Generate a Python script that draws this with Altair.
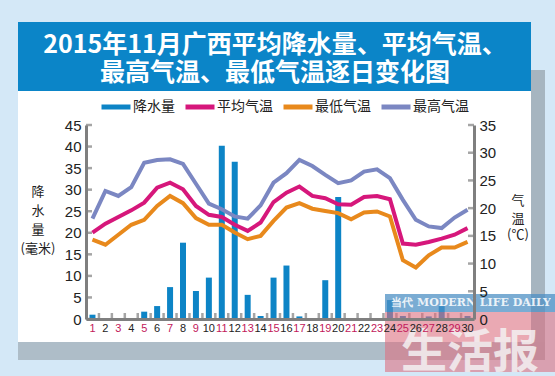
import altair as alt
import pandas as pd

days = list(range(1, 31))
precip = [1.0, 0, 0, 0, 1.7, 3.0, 7.4, 17.7, 6.5, 9.6, 40.2, 36.5, 5.6, 0.7, 9.6,
          12.4, 0.6, 0, 9.0, 28.3, 0, 0, 0, 4.4, 0.7, 0, 0.6, 3.0, 0, 0.7]
avg_t = [15.6, 17.2, 18.4, 19.6, 21.0, 23.7, 24.6, 23.4, 20.4, 18.8, 18.4, 17.0, 15.9, 17.4, 21.1,
         22.8, 23.9, 22.2, 21.8, 20.7, 20.6, 22.0, 22.2, 21.6, 13.6, 13.4, 13.9, 14.5, 15.2, 16.4]
min_t = [14.3, 13.4, 15.2, 17.0, 17.9, 20.4, 22.2, 20.9, 18.2, 17.0, 17.0, 15.6, 14.4, 15.0, 17.7,
         20.1, 20.9, 19.9, 19.5, 19.1, 18.0, 19.2, 19.4, 18.5, 10.6, 9.3, 11.5, 12.9, 12.9, 13.9]
max_t = [18.1, 23.1, 22.2, 23.8, 28.2, 28.7, 28.8, 28.0, 24.4, 20.8, 19.8, 18.5, 18.1, 20.5, 24.6,
         26.3, 28.7, 27.6, 26.0, 24.5, 25.0, 26.6, 27.0, 25.4, 21.5, 17.9, 16.7, 16.4, 18.3, 19.7]

series_names = ["降水量", "平均气温", "最低气温", "最高气温"]
series_colors = ["#0d84c6", "#d6177b", "#e8891c", "#7b87c2"]
left_ticks = list(range(0, 50, 5))
right_ticks = list(range(0, 40, 5))
title_lines = ["2015年11月广西平均降水量、平均气温、", "最高气温、最低气温逐日变化图"]

W, H = 388, 194
CJK = "Noto Sans CJK SC"
LAT = "Liberation Sans"
GRAY = "#7f7f7f"

bar_df = pd.DataFrame({"day": days, "value": precip, "series": series_names[0]})
line_df = pd.concat([
    pd.DataFrame({"day": days, "value": avg_t, "series": series_names[1]}),
    pd.DataFrame({"day": days, "value": min_t, "series": series_names[2]}),
    pd.DataFrame({"day": days, "value": max_t, "series": series_names[3]}),
])

xaxis = alt.Axis(title=None, labelAngle=0, ticks=False, labelFontSize=11,
                 labelFont=LAT, labelPadding=3, labelOverlap=False, zindex=1,
                 labelColor={"condition": {"test": "datum.value % 2 == 1", "value": "#c2185b"},
                             "value": "#222222"},
                 domainColor=GRAY, domainWidth=3)
xscale = alt.Scale(paddingInner=0, paddingOuter=0)
color = alt.Color("series:N",
                  scale=alt.Scale(domain=series_names, range=series_colors),
                  legend=alt.Legend(title=None, orient="none", legendX=13, legendY=-35,
                                    direction="horizontal", symbolType="stroke",
                                    symbolStrokeWidth=5, symbolSize=841,
                                    labelFont=CJK, labelFontSize=14, labelColor="#222",
                                    labelOffset=0, columnPadding=0))

# background decorations
bg = pd.DataFrame({"k": [0]})
panel = alt.Chart(bg).mark_rect(color="white").encode(
    x=alt.value(-68), x2=alt.value(445), y=alt.value(-103), y2=alt.value(217))
shadow_r = alt.Chart(bg).mark_rect(color="#9aa7b2", opacity=0.8).encode(
    x=alt.value(445), x2=alt.value(459), y=alt.value(-55), y2=alt.value(235))
shadow_b = alt.Chart(bg).mark_rect(color="#a4b1bc", opacity=0.8).encode(
    x=alt.value(-68), x2=alt.value(459), y=alt.value(217), y2=alt.value(235))
banner = alt.Chart(bg).mark_rect(color="#0b85c8").encode(
    x=alt.value(-68), x2=alt.value(445), y=alt.value(-103), y2=alt.value(-34))
tdf = pd.DataFrame({"t": title_lines})
title1 = alt.Chart(tdf.iloc[[0]]).mark_text(font=CJK, fontSize=25, fontWeight="bold",
                                            color="white", baseline="middle").encode(
    text="t:N", x=alt.value(189), y=alt.value(-80))
title2 = alt.Chart(tdf.iloc[[1]]).mark_text(font=CJK, fontSize=25, fontWeight="bold",
                                            color="white", baseline="middle").encode(
    text="t:N", x=alt.value(189), y=alt.value(-52))

# axis titles
ltitle = pd.DataFrame({"t": ["降", "水", "量", "(毫米)"], "y": [67, 86, 105, 124]})
rtitle = pd.DataFrame({"t": ["气", "温", "(℃)"], "y": [76, 94, 110]})
lt = alt.Chart(ltitle).mark_text(font=CJK, fontSize=13, color="#222").encode(
    text="t:N", x=alt.value(-48), y=alt.Y("y:Q", scale=None))
rt = alt.Chart(rtitle).mark_text(font=CJK, fontSize=13, color="#222").encode(
    text="t:N", x=alt.value(432), y=alt.Y("y:Q", scale=None))

background = alt.layer(panel, shadow_r, shadow_b, banner, title1, title2, lt, rt)

axis_common = dict(title=None, ticks=False, grid=False, labelFont=LAT, labelFontSize=15,
                   labelColor="#222", labelPadding=5, domainColor=GRAY, domainWidth=3,
                   zindex=1, labelOverlap=False)
left_axis = alt.Axis(orient="left", values=left_ticks, **axis_common)
right_axis = alt.Axis(orient="right", values=right_ticks, **axis_common)
left_scale = alt.Scale(domain=[0, 45], nice=False)
right_scale = alt.Scale(domain=[0, 35], nice=False)

bars = alt.Chart(bar_df).mark_bar(size=6).encode(
    x=alt.X("day:O", scale=xscale, axis=xaxis),
    y=alt.Y("value:Q", scale=left_scale, axis=left_axis),
    color=color)
lticks = alt.Chart(pd.DataFrame({"value": left_ticks})).mark_tick(
    orient="horizontal", size=6, thickness=2.5, color=GRAY).encode(
    y=alt.Y("value:Q", scale=left_scale, axis=left_axis), x=alt.value(3))
bticks = alt.Chart(pd.DataFrame({"day": days[1:]})).mark_tick(
    orient="vertical", size=6, thickness=2.5, color=GRAY, xOffset=-W / 60).encode(
    x=alt.X("day:O", scale=xscale, axis=xaxis), y=alt.value(H - 3))
left = alt.layer(bars, lticks, bticks)

lines = alt.Chart(line_df).mark_line(strokeWidth=4).encode(
    x=alt.X("day:O", scale=xscale, axis=xaxis),
    y=alt.Y("value:Q", scale=right_scale, axis=right_axis),
    color="series:N", detail="series:N")
rticks = alt.Chart(pd.DataFrame({"value": right_ticks})).mark_tick(
    orient="horizontal", size=6, thickness=2.5, color=GRAY).encode(
    y=alt.Y("value:Q", scale=right_scale, axis=right_axis), x=alt.value(W - 3))
right = alt.layer(lines, rticks)

# newspaper watermark
wm_blue = alt.Chart(bg).mark_rect(color="#4d90c4", opacity=0.75).encode(
    x=alt.value(299), x2=alt.value(469), y=alt.value(169), y2=alt.value(187))
wm_pink = alt.Chart(bg).mark_rect(color="#dc6f80", opacity=0.6).encode(
    x=alt.value(299), x2=alt.value(469), y=alt.value(187), y2=alt.value(247))
wm_df = pd.DataFrame({"t": ["当代 MODERN LIFE DAILY", "生活报"]})
wm_t1 = alt.Chart(wm_df.iloc[[0]]).mark_text(font="DejaVu Serif", fontSize=11, fontWeight="bold",
                                             color="white", opacity=0.85).encode(
    text="t:N", x=alt.value(385), y=alt.value(178))
wm_t2 = alt.Chart(wm_df.iloc[[1]]).mark_text(font=CJK, fontSize=46, fontWeight="bold",
                                             color="#f4f1f2", opacity=0.85, baseline="alphabetic").encode(
    text="t:N", x=alt.value(384), y=alt.value(242))
watermark = alt.layer(wm_blue, wm_pink, wm_t1, wm_t2)

chart = alt.layer(background, left, right, watermark).resolve_scale(y="independent").properties(
    width=W, height=H,
    padding={"left": 86, "top": 125, "right": 81, "bottom": 57},
    autosize=alt.AutoSizeParams(type="none"),
).configure(background="#d4e8f7").configure_view(stroke=None)

chart.save("out.html", embed_options={"renderer": "svg", "actions": False})
